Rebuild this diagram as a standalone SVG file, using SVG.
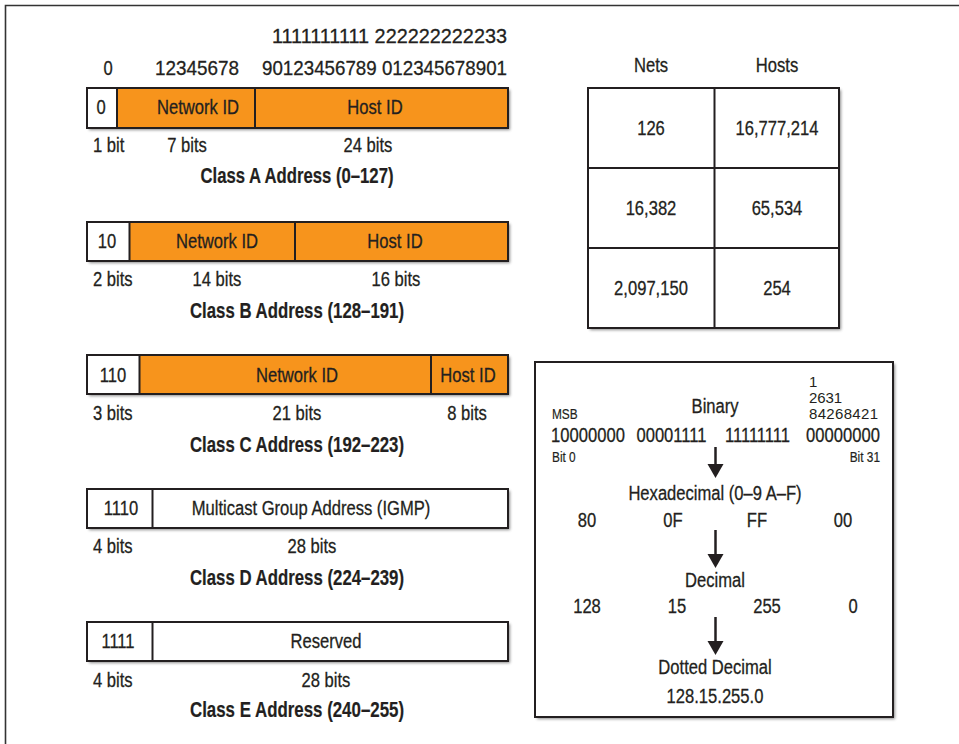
<svg xmlns="http://www.w3.org/2000/svg" width="959" height="744" viewBox="0 0 959 744">
  <style>
    .t { font-family: "Liberation Sans", Arial, sans-serif; font-size: 21px; fill: #231f20;
         stroke: #231f20; stroke-width: 0.3;
         transform-box: fill-box; transform-origin: center; transform: scaleX(0.79); }
    .st { transform-origin: left center; }
    .e { text-anchor: end; transform-origin: right center; }
    .m { text-anchor: middle; }
    .fx { transform: none; }
    .b { font-weight: bold; font-size: 22px; stroke-width: 0.2; }
    .s { font-size: 15px; stroke-width: 0.2; }
    .w { font-family: "Liberation Sans", Arial, sans-serif; font-size: 15px; fill: #231f20; }
    .fillO { fill: #f7941e; }
    .fillW { fill: #ffffff; }
    .edge { fill: none; stroke: #231f20; stroke-width: 2; }
    .shaft { stroke: #231f20; stroke-width: 2.5; fill: none; }
    .head { fill: #231f20; }
  </style>
  <defs>
    <filter id="shadow" x="-5%" y="-20%" width="110%" height="160%">
      <feDropShadow dx="2" dy="2" stdDeviation="1.5" flood-color="#000" flood-opacity="0.45"/>
    </filter>
  </defs>

  <rect width="959" height="744" fill="#ffffff"/>
  <!-- page frame -->
  <path d="M5.5,744 V5.5 H959" fill="none" stroke="#333" stroke-width="1.6"/>

  <!-- bit position ruler -->
  <g id="ruler">
    <text class="t fx" x="272" y="43" textLength="235" lengthAdjust="spacingAndGlyphs">1111111111 222222222233</text>
    <text class="t m" x="108" y="75">0</text>
    <text class="t fx" x="155" y="75" textLength="84" lengthAdjust="spacingAndGlyphs">12345678</text>
    <text class="t fx" x="262" y="75" textLength="245" lengthAdjust="spacingAndGlyphs">90123456789 012345678901</text>
  </g>

  <!-- Class A -->
  <g id="classA">
    <rect x="87" y="88" width="421" height="40" class="fillO" filter="url(#shadow)"/>
    <rect x="87" y="88" width="30" height="40" class="fillW"/>
    <rect x="87" y="88" width="421" height="40" class="edge"/>
    <line x1="117" y1="88" x2="117" y2="128" class="edge"/>
    <line x1="255" y1="88" x2="255" y2="128" class="edge"/>
    <text class="t m" x="101" y="114">0</text>
    <text class="t m" x="198" y="114">Network ID</text>
    <text class="t m" x="375" y="114">Host ID</text>
    <text class="t st" x="93" y="152">1 bit</text>
    <text class="t m" x="187" y="152">7 bits</text>
    <text class="t m" x="368" y="152">24 bits</text>
    <text class="t b m fx" x="297" y="183" textLength="193" lengthAdjust="spacingAndGlyphs">Class A Address (0–127)</text>
  </g>

  <!-- Class B -->
  <g id="classB">
    <rect x="87" y="222" width="421" height="39" class="fillO" filter="url(#shadow)"/>
    <rect x="87" y="222" width="42.5" height="39" class="fillW"/>
    <rect x="87" y="222" width="421" height="39" class="edge"/>
    <line x1="129.5" y1="222" x2="129.5" y2="261" class="edge"/>
    <line x1="295" y1="222" x2="295" y2="261" class="edge"/>
    <text class="t m" x="107" y="248">10</text>
    <text class="t m" x="217" y="248">Network ID</text>
    <text class="t m" x="395" y="248">Host ID</text>
    <text class="t st" x="93" y="286">2 bits</text>
    <text class="t m" x="217" y="286">14 bits</text>
    <text class="t m" x="396" y="286">16 bits</text>
    <text class="t b m fx" x="297" y="318" textLength="214" lengthAdjust="spacingAndGlyphs">Class B Address (128–191)</text>
  </g>

  <!-- Class C -->
  <g id="classC">
    <rect x="87" y="355" width="421" height="39" class="fillO" filter="url(#shadow)"/>
    <rect x="87" y="355" width="52.5" height="39" class="fillW"/>
    <rect x="87" y="355" width="421" height="39" class="edge"/>
    <line x1="139.5" y1="355" x2="139.5" y2="394" class="edge"/>
    <line x1="431" y1="355" x2="431" y2="394" class="edge"/>
    <text class="t m" x="113" y="382">110</text>
    <text class="t m" x="297" y="382">Network ID</text>
    <text class="t m" x="468" y="382">Host ID</text>
    <text class="t st" x="93" y="420">3 bits</text>
    <text class="t m" x="297" y="420">21 bits</text>
    <text class="t m" x="467" y="420">8 bits</text>
    <text class="t b m fx" x="297" y="452" textLength="214" lengthAdjust="spacingAndGlyphs">Class C Address (192–223)</text>
  </g>

  <!-- Class D -->
  <g id="classD">
    <rect x="87" y="489" width="421" height="39" class="fillW" filter="url(#shadow)"/>
    <rect x="87" y="489" width="421" height="39" class="edge"/>
    <line x1="152.5" y1="489" x2="152.5" y2="528" class="edge"/>
    <text class="t m" x="121" y="515">1110</text>
    <text class="t m" x="311" y="515">Multicast Group Address (IGMP)</text>
    <text class="t st" x="93" y="553">4 bits</text>
    <text class="t m" x="312" y="553">28 bits</text>
    <text class="t b m fx" x="297" y="585" textLength="214" lengthAdjust="spacingAndGlyphs">Class D Address (224–239)</text>
  </g>

  <!-- Class E -->
  <g id="classE">
    <rect x="87" y="622" width="421" height="39" class="fillW" filter="url(#shadow)"/>
    <rect x="87" y="622" width="421" height="39" class="edge"/>
    <line x1="152.5" y1="622" x2="152.5" y2="661" class="edge"/>
    <text class="t m" x="118" y="648">1111</text>
    <text class="t m" x="326" y="648">Reserved</text>
    <text class="t st" x="93" y="687">4 bits</text>
    <text class="t m" x="326" y="687">28 bits</text>
    <text class="t b m fx" x="297" y="717" textLength="214" lengthAdjust="spacingAndGlyphs">Class E Address (240–255)</text>
  </g>

  <!-- nets / hosts table -->
  <g id="capacityTable">
    <text class="t m" x="651" y="72">Nets</text>
    <text class="t m" x="777" y="72">Hosts</text>
    <rect x="588" y="88" width="251" height="240" class="fillW" filter="url(#shadow)"/>
    <rect x="588" y="88" width="251" height="240" class="edge"/>
    <line x1="714.5" y1="88" x2="714.5" y2="328" class="edge"/>
    <line x1="588" y1="168" x2="839" y2="168" class="edge"/>
    <line x1="588" y1="248" x2="839" y2="248" class="edge"/>
    <text class="t m" x="651" y="135">126</text>
    <text class="t m" x="777" y="135">16,777,214</text>
    <text class="t m" x="651" y="215">16,382</text>
    <text class="t m" x="777" y="215">65,534</text>
    <text class="t m" x="651" y="295">2,097,150</text>
    <text class="t m" x="777" y="295">254</text>
  </g>

  <!-- notation conversion panel -->
  <g id="conversionPanel">
    <rect x="535" y="362" width="358" height="355" class="fillW" filter="url(#shadow)"/>
    <rect x="535" y="362" width="358" height="355" class="edge"/>
    <text class="w" x="809" y="387">1</text>
    <text class="w" x="809" y="403" textLength="33" lengthAdjust="spacing">2631</text>
    <text class="w" x="809" y="419" textLength="69" lengthAdjust="spacing">84268421</text>
    <text class="t s st" x="552" y="419">MSB</text>
    <text class="t m" x="715" y="413">Binary</text>
    <text class="t m" x="588" y="442">10000000</text>
    <text class="t m" x="671.5" y="442">00001111</text>
    <text class="t m" x="757.5" y="442">11111111</text>
    <text class="t m" x="843" y="442">00000000</text>
    <text class="t s st" x="552" y="462">Bit 0</text>
    <text class="t s e" x="880" y="462">Bit 31</text>
    <text class="t m" x="715" y="500">Hexadecimal (0–9 A–F)</text>
    <text class="t m" x="587" y="527">80</text>
    <text class="t m" x="673" y="527">0F</text>
    <text class="t m" x="757" y="527">FF</text>
    <text class="t m" x="843" y="527">00</text>
    <text class="t m" x="715" y="587">Decimal</text>
    <text class="t m" x="587" y="613">128</text>
    <text class="t m" x="677" y="613">15</text>
    <text class="t m" x="767" y="613">255</text>
    <text class="t m" x="853" y="613">0</text>
    <text class="t m" x="715" y="674">Dotted Decimal</text>
    <text class="t m" x="715" y="703">128.15.255.0</text>
  </g>

  <!-- conversion arrows -->
  <g id="connectors">
    <line x1="715.5" y1="447" x2="715.5" y2="466" class="shaft"/>
    <polygon points="707.5,464 723.5,464 715.5,478" class="head"/>
    <line x1="715.5" y1="530" x2="715.5" y2="556" class="shaft"/>
    <polygon points="707.5,554 723.5,554 715.5,568" class="head"/>
    <line x1="715.5" y1="617" x2="715.5" y2="643" class="shaft"/>
    <polygon points="707.5,641 723.5,641 715.5,655" class="head"/>
  </g>
</svg>
